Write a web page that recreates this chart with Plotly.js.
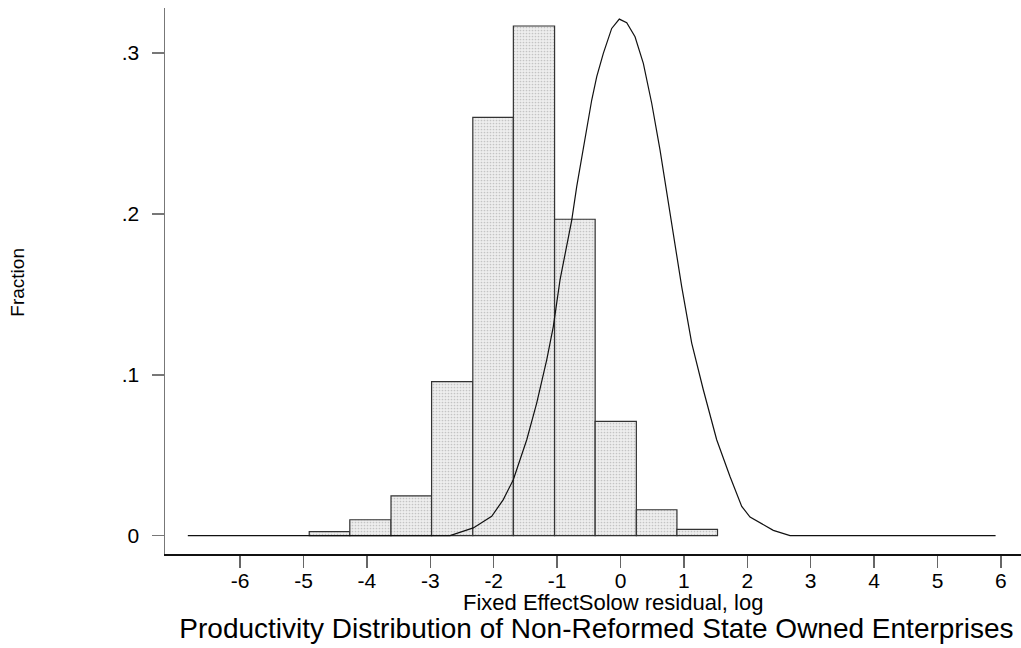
<!DOCTYPE html>
<html>
<head>
<meta charset="utf-8">
<script src="https://cdn.plot.ly/plotly-3.0.1.min.js"></script>
<style>
  html, body { margin: 0; padding: 0; background: #ffffff; overflow: hidden; }
  #chart { width: 1021px; height: 648px; }
</style>
</head>
<body>
<div id="chart"></div>
<script>
// Histogram bins (left/right edges) and fractions
var binEdges = [-4.91, -4.27, -3.62, -2.98, -2.33, -1.69, -1.04, -0.40, 0.25, 0.89, 1.53];
var binFraction = [0.0025, 0.0099, 0.0247, 0.0957, 0.260, 0.3168, 0.1967, 0.071, 0.0161, 0.0039];

// Overlaid density curve
var curveX = [-6.825, -2.689, -2.322, -2.032, -1.849, -1.691, -1.479, -1.322, -1.164, -1.060,
              -0.954, -0.875, -0.770, -0.691, -0.612, -0.533, -0.454, -0.375, -0.271, -0.139,
              -0.019, 0.098, 0.229, 0.360, 0.492, 0.623, 0.754, 0.886, 0.965, 1.123,
              1.306, 1.517, 1.727, 1.912, 2.043, 2.410, 2.674, 5.916];
var curveY = [0, 0, 0.0048, 0.012, 0.0224, 0.0348, 0.0596, 0.0824, 0.1093, 0.130,
              0.159, 0.1756, 0.196, 0.217, 0.2356, 0.2542, 0.2708, 0.2853, 0.2998, 0.3153,
              0.3211, 0.3188, 0.3101, 0.2936, 0.2688, 0.2398, 0.2066, 0.1735, 0.1548, 0.1197,
              0.0907, 0.0596, 0.0368, 0.0182, 0.0116, 0.0033, 0, 0];

var xTickVals = [-6, -5, -4, -3, -2, -1, 0, 1, 2, 3, 4, 5, 6];
var yTickVals = [0, 0.1, 0.2, 0.3];
var yTickText = ['0', '.1', '.2', '.3'];

var titleText = 'Productivity Distribution of Non-Reformed State Owned Enterprises';
var xTitleText = 'Fixed EffectSolow residual, log';
var yTitleText = 'Fraction';

var binCenters = [], binWidths = [];
for (var i = 0; i < binFraction.length; i++) {
  binCenters.push((binEdges[i] + binEdges[i + 1]) / 2);
  binWidths.push(binEdges[i + 1] - binEdges[i]);
}

var FONT = 'Liberation Sans, Arial, Helvetica, sans-serif';

var traces = [
  {
    type: 'bar',
    x: binCenters,
    y: binFraction,
    width: binWidths,
    marker: {
      color: '#e8e8e8',
      line: { color: '#333333', width: 1.2 },
      pattern: { shape: '.', fgcolor: '#c4c4c4', bgcolor: '#eeeeee', size: 3, solidity: 0.25 }
    },
    hoverinfo: 'x+y',
    showlegend: false
  },
  {
    type: 'scatter',
    mode: 'lines',
    x: curveX,
    y: curveY,
    line: { color: '#111111', width: 1.2 },
    hoverinfo: 'x+y',
    showlegend: false
  }
];

var layout = {
  width: 1021,
  height: 648,
  paper_bgcolor: '#ffffff',
  plot_bgcolor: '#ffffff',
  margin: { l: 165, r: 0, t: 8, b: 94 },
  bargap: 0,
  font: { family: FONT, color: '#000000', size: 20 },
  title: {
    text: titleText,
    font: { family: FONT, size: 28, color: '#000000' },
    xref: 'paper', x: 0.504, xanchor: 'center',
    yref: 'container', y: 0.031, yanchor: 'middle'
  },
  xaxis: {
    range: [-7.185, 6.317],
    tickvals: xTickVals,
    ticktext: xTickVals.map(String),
    ticks: 'outside', ticklen: 12, tickwidth: 1.5, tickcolor: '#666666',
    ticklabelstandoff: -5,
    showline: true, linecolor: '#111111', linewidth: 1.5,
    showgrid: false, zeroline: false,
    tickfont: { family: FONT, size: 21, color: '#000000' }
  },
  yaxis: {
    range: [-0.0114, 0.328],
    tickvals: yTickVals,
    ticktext: yTickText,
    ticks: 'outside', ticklen: 12, tickwidth: 1.5, tickcolor: '#777777',
    ticklabelstandoff: 8,
    showline: true, linecolor: '#777777', linewidth: 1.5,
    showgrid: false, zeroline: false,
    tickfont: { family: FONT, size: 21, color: '#000000' }
  },
  annotations: [
    {
      text: xTitleText, showarrow: false,
      xref: 'paper', yref: 'paper', x: 0.5234, y: -0.088,
      xanchor: 'center', yanchor: 'middle',
      font: { family: FONT, size: 22, color: '#000000' }
    },
    {
      text: yTitleText, showarrow: false, textangle: -90,
      xref: 'paper', yref: 'paper', x: -0.1717, y: 0.497,
      xanchor: 'center', yanchor: 'middle',
      font: { family: FONT, size: 19, color: '#000000' }
    }
  ]
};

Plotly.newPlot('chart', traces, layout, { displayModeBar: false, staticPlot: true });
</script>
</body>
</html>
